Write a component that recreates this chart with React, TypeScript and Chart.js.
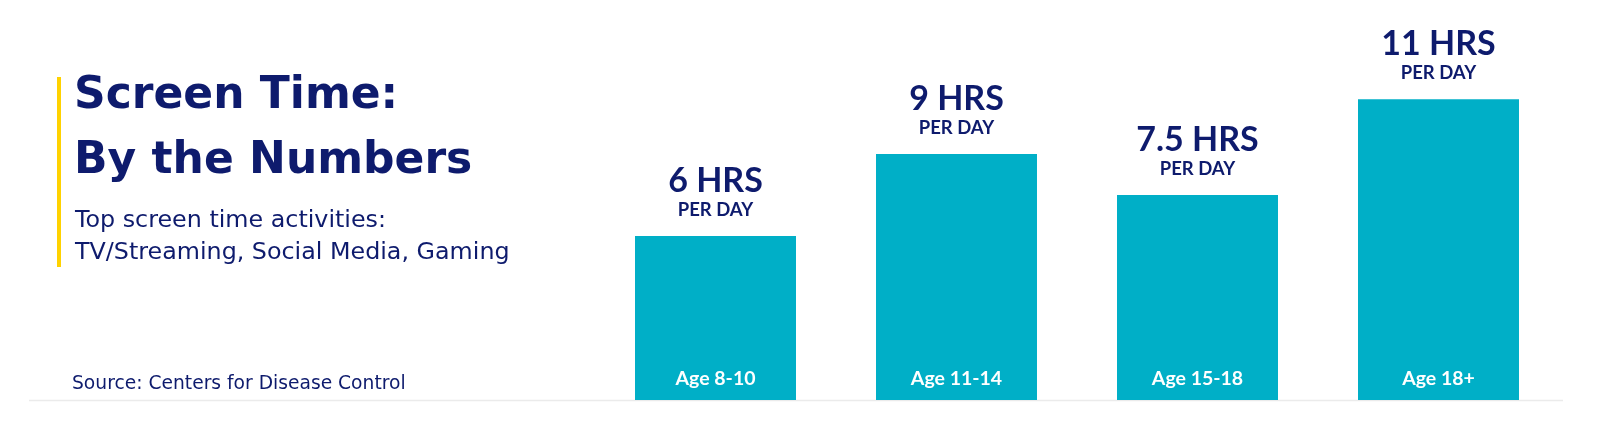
import React, { useEffect, useRef } from "react";
import { Chart, registerables } from "chart.js";

Chart.register(...registerables);

const categories: string[] = ["Age 8-10", "Age 11-14", "Age 15-18", "Age 18+"];
const hoursPerDay: number[] = [6, 9, 7.5, 11];
const unitText = "HRS";
const perText = "PER DAY";
const titleLines: string[] = ["Screen Time:", "By the Numbers"];
const subtitleLines: string[] = ["Top screen time activities:", "TV/Streaming, Social Media, Gaming"];
const sourceText = "Source: Centers for Disease Control";

const NAVY = "#0e1b6d";
const TEAL = "#00afc7";
const YELLOW = "#ffd200";

const labelPlugin = {
  id: "barLabels",
  beforeDatasetsDraw(chart: any) {
    const { ctx } = chart;
    const y0 = chart.scales.y.getPixelForValue(0);
    ctx.save();
    ctx.strokeStyle = "#ebebeb";
    ctx.lineWidth = 1.5;
    ctx.beginPath();
    ctx.moveTo(29, y0 + 0.5);
    ctx.lineTo(chart.chartArea.right + 4, y0 + 0.5);
    ctx.stroke();
    ctx.restore();
  },
  afterDatasetsDraw(chart: any) {
    const { ctx } = chart;
    const meta = chart.getDatasetMeta(0);
    const y0 = chart.scales.y.getPixelForValue(0);
    ctx.save();
    ctx.textAlign = "center";
    ctx.textBaseline = "alphabetic";
    meta.data.forEach((bar: any, i: number) => {
      const top = bar.y;
      ctx.fillStyle = NAVY;
      ctx.font = "bold 34px Lato";
      ctx.fillText(`${hoursPerDay[i]} ${unitText}`, bar.x, top - 44);
      ctx.font = "bold 18.5px Lato";
      ctx.fillText(perText, bar.x, top - 20);
      ctx.fillStyle = "#ffffff";
      ctx.font = "bold 19.5px Lato";
      ctx.fillText(categories[i], bar.x, y0 - 15);
    });
    ctx.restore();
  },
};

export default function App() {
  const canvasRef = useRef<HTMLCanvasElement | null>(null);

  useEffect(() => {
    document.body.style.margin = "0";
    const canvas = canvasRef.current;
    if (!canvas) return;
    const chart = new Chart(canvas, {
      type: "bar",
      data: {
        labels: categories,
        datasets: [
          {
            data: hoursPerDay,
            backgroundColor: TEAL,
            borderWidth: 0,
            categoryPercentage: 1,
            barPercentage: 0.668,
          },
        ],
      },
      options: {
        animation: false,
        responsive: false,
        devicePixelRatio: 1,
        layout: { padding: { left: 595, right: 41, top: 72, bottom: 37 } },
        plugins: {
          legend: { display: false },
          tooltip: { enabled: false },
          title: { display: false },
        },
        scales: {
          x: { display: false, grid: { display: false } },
          y: { display: false, min: 0, max: 12, grid: { display: false } },
        },
      },
      plugins: [labelPlugin],
    });
    return () => chart.destroy();
  }, []);

  const titleFont = 44;
  const subFont = 23.8;
  const srcFont = 18.7;
  const dv = 0.846;

  return (
    <div style={{ position: "absolute", left: 0, top: 0, width: 1600, height: 437, background: "#ffffff", overflow: "hidden" }}>
      <canvas ref={canvasRef} width={1600} height={437} style={{ position: "absolute", left: 0, top: 0, width: 1600, height: 437 }} />
      <div style={{ position: "absolute", left: 57, top: 77, width: 4, height: 190, background: YELLOW }} />
      {titleLines.map((t, i) => (
        <div
          key={t}
          style={{
            position: "absolute",
            left: 74,
            top: (i === 0 ? 108 : 173) - dv * titleFont,
            fontFamily: "'DejaVu Sans'",
            fontWeight: 700,
            fontSize: titleFont,
            lineHeight: `${titleFont}px`,
            letterSpacing: "0px",
            color: NAVY,
            whiteSpace: "nowrap",
          }}
        >
          {t}
        </div>
      ))}
      {subtitleLines.map((t, i) => (
        <div
          key={t}
          style={{
            position: "absolute",
            left: 75,
            top: (i === 0 ? 228 : 260) - dv * subFont,
            fontFamily: "'DejaVu Sans'",
            fontWeight: 400,
            fontSize: subFont,
            lineHeight: `${subFont}px`,
            color: NAVY,
            whiteSpace: "nowrap",
          }}
        >
          {t}
        </div>
      ))}
      <div
        style={{
          position: "absolute",
          left: 72,
          top: 390 - dv * srcFont,
          fontFamily: "'DejaVu Sans'",
          fontWeight: 400,
          fontSize: srcFont,
          lineHeight: `${srcFont}px`,
          color: NAVY,
          whiteSpace: "nowrap",
        }}
      >
        {sourceText}
      </div>
    </div>
  );
}
